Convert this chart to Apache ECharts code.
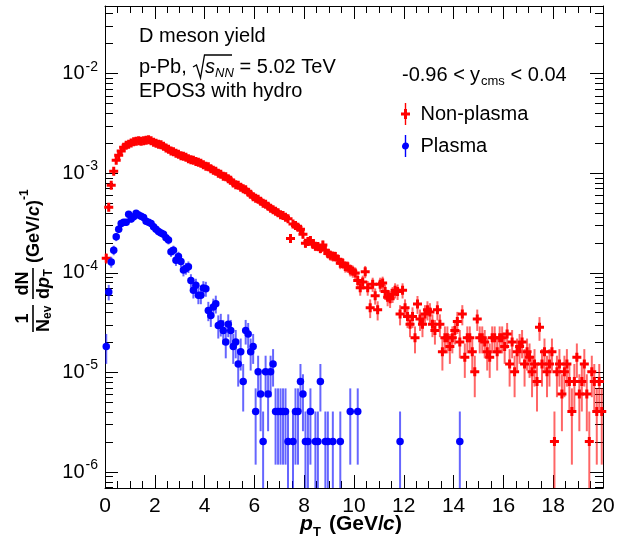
<!DOCTYPE html>
<html>
<head>
<meta charset="utf-8">
<script src="https://cdn.jsdelivr.net/npm/echarts/dist/echarts.min.js"></script>
<style>
  html, body { margin: 0; padding: 0; background: #ffffff; }
  #chart { width: 622px; height: 545px; }
</style>
</head>
<body>
<div id="chart"></div>
<script>
// ---------------- data ----------------
const binWidth = 0.1;          // GeV/c
const firstBinCenter = 0.05;   // GeV/c
const countUnit = 2.03e-6;     // yield carried by one entry (sets Poisson error)

// Non-plasma yield, one value per 0.1 GeV/c bin, 0-20 GeV/c
const nonPlasma = [
  1.40e-4, 4.55e-4, 7.57e-4, 1.05e-3, 1.35e-3, 1.52e-3, 1.67e-3, 1.83e-3, 1.91e-3, 1.96e-3,
  2.02e-3, 2.07e-3, 2.10e-3, 2.12e-3, 2.10e-3, 2.12e-3, 2.15e-3, 2.17e-3, 2.12e-3, 2.05e-3,
  2.00e-3, 1.96e-3, 1.93e-3, 1.87e-3, 1.79e-3, 1.74e-3, 1.67e-3, 1.65e-3, 1.59e-3, 1.55e-3,
  1.50e-3, 1.48e-3, 1.45e-3, 1.40e-3, 1.37e-3, 1.35e-3, 1.31e-3, 1.29e-3, 1.26e-3, 1.22e-3,
  1.175e-3, 1.16e-3, 1.11e-3, 1.07e-3, 1.05e-3, 1.00e-3, 9.77e-4, 9.33e-4, 9.22e-4, 8.81e-4,
  8.51e-4, 7.98e-4, 7.66e-4, 7.57e-4, 7.23e-4, 6.98e-4, 6.82e-4, 6.44e-4, 6.15e-4, 5.80e-4,
  5.61e-4, 5.48e-4, 5.23e-4, 4.99e-4, 4.88e-4, 4.66e-4, 4.45e-4, 4.30e-4, 4.15e-4, 4.01e-4,
  3.83e-4, 3.78e-4, 3.61e-4, 3.49e-4, 2.22e-4, 3.10e-4, 3.00e-4, 2.87e-4, 2.74e-4, 2.44e-4,
  1.98e-4, 2.07e-4, 2.12e-4, 1.94e-4, 1.85e-4, 1.84e-4, 1.76e-4, 1.91e-4, 1.69e-4, 1.57e-4,
  1.50e-4, 1.47e-4, 1.46e-4, 1.37e-4, 1.25e-4, 1.25e-4, 1.16e-4, 1.15e-4, 1.07e-4, 1.04e-4,
  9.95e-5, 8.4e-5, 7.1e-5, 8.1e-5, 1.03e-4, 7.1e-5, 4.47e-5, 7.7e-5, 5.9e-5, 4.26e-5,
  7.7e-5, 7.9e-5, 6.5e-5, 5.7e-5, 5.5e-5, 6.1e-5, 6.7e-5, 6.5e-5, 3.86e-5, 6.7e-5,
  4.47e-5, 3.65e-5, 3.05e-5, 3.65e-5, 2.23e-5, 4.87e-5, 3.45e-5, 3.05e-5, 3.86e-5, 4.26e-5,
  4.06e-5, 3.05e-5, 2.64e-5, 4.26e-5, 3.05e-5, 1.62e-5, 2.23e-5, 2.23e-5, 1.83e-5, 2.23e-5,
  2.64e-5, 3.25e-5, 2.03e-5, 3.86e-5, 1.42e-5, 2.23e-5, 2.23e-5, 1.62e-5, 1.02e-5, 3.45e-5,
  2.23e-5, 2.23e-5, 2.03e-5, 1.62e-5, 1.42e-5, 2.23e-5, 2.23e-5, 1.62e-5, 2.23e-5, 2.23e-5,
  1.83e-5, 2.44e-5, 1.22e-5, 2.03e-5, 1.02e-5, 1.62e-5, 1.83e-5, 2.03e-5, 1.22e-5, 1.62e-5,
  1.42e-5, 1.02e-5, 1.22e-5, 8.12e-6, 2.84e-5, 1.22e-5, 1.62e-5, 1.02e-5, 1.22e-5, 1.62e-5,
  2.03e-6, 1.02e-5, 1.22e-5, 6.09e-6, 1.02e-5, 1.22e-5, 8.12e-6, 4.06e-6, 8.12e-6, 1.42e-5,
  6.09e-6, 8.12e-6, 1.22e-5, 6.09e-6, 2.03e-6, 1.02e-5, 8.12e-6, 4.06e-6, 8.12e-6, 4.06e-6
];

// Plasma yield, one value per 0.1 GeV/c bin (null = empty bin)
const plasma = [
  1.83e-5, 6.44e-5, 1.29e-4, 1.69e-4, 2.30e-4, 2.75e-4, 3.14e-4, 3.22e-4, 3.22e-4, 3.87e-4,
  3.47e-4, 3.67e-4, 3.96e-4, 3.81e-4, 3.70e-4, 3.59e-4, 3.31e-4, 3.22e-4, 3.14e-4, 2.91e-4,
  2.75e-4, 2.60e-4, 2.52e-4, 2.44e-4, 2.26e-4, 2.14e-4, 1.63e-4, 1.69e-4, 1.34e-4, 1.46e-4,
  1.30e-4, 1.07e-4, 1.11e-4, 1.15e-4, 8.4e-5, 6.7e-5, 7.5e-5, 5.95e-5, 5.95e-5, 7.06e-5,
  6.95e-5, 4.20e-5, 3.74e-5, 4.55e-5, 4.91e-5, 2.97e-5, 3.09e-5, 2.64e-5, 2.03e-5, 3.05e-5,
  2.64e-5, 1.83e-5, 2.03e-5, 1.22e-5, 1.62e-5, 8.12e-6, 2.64e-5, 2.44e-5, 1.62e-5, 1.83e-5,
  4.06e-6, 1.02e-5, 6.09e-6, 2.03e-6, 1.02e-5, 6.09e-6, 1.02e-5, 1.22e-5, 4.06e-6, 4.06e-6,
  4.06e-6, 4.06e-6, 4.06e-6, 2.03e-6, null, 2.03e-6, 4.06e-6, 4.06e-6, 8.12e-6, 6.09e-6,
  2.03e-6, 2.03e-6, 4.06e-6, null, 2.03e-6, 2.03e-6, 8.12e-6, null, 2.03e-6, 2.03e-6,
  null, 2.03e-6, null, null, 2.03e-6, null, null, null, 4.06e-6, null,
  null, 4.06e-6, null, null, null, null, null, null, null, null,
  null, null, null, null, null, null, null, null, 2.03e-6, null,
  null, null, null, null, null, null, null, null, null, null,
  null, null, null, null, null, null, null, null, null, null,
  null, null, 2.03e-6
];

// axes
const xMin = 0, xMax = 20, xStep = 2;
const yMin = 6.93e-7, yMax = 4.78e-2;
const yDecades = [1e-6, 1e-5, 1e-4, 1e-3, 1e-2];

// ---------------- helpers ----------------
function binCenter(i) { return Math.round((firstBinCenter + i * binWidth) * 1000) / 1000; }
function points(values) {
  const out = [];
  values.forEach(function (v, i) { if (v !== null) out.push([binCenter(i), v]); });
  return out;
}
function errPoints(values) {
  const out = [];
  values.forEach(function (v, i) { if (v !== null) out.push([binCenter(i), v, Math.sqrt(v * countUnit)]); });
  return out;
}
const yMinor = [];
for (let d = -7; d <= -1; d++) {
  for (let m = 2; m <= 9; m++) {
    const v = m * Math.pow(10, d);
    if (v > yMin && v < yMax) yMinor.push(v);
  }
}
function errRender(color) {
  return function (params, api) {
    const cs = params.coordSys;
    const x = api.value(0), v = api.value(1), e = api.value(2);
    const top = api.coord([x, v + e]);
    const yTop = Math.max(top[1], cs.y);
    let yBot = cs.y + cs.height;
    if (v - e > yMin) yBot = Math.min(api.coord([x, v - e])[1], yBot);
    return { type: 'line', shape: { x1: top[0], y1: yTop, x2: top[0], y2: yBot },
             style: { stroke: color, lineWidth: 2 } };
  };
}

const FONT = 'Liberation Sans, Arial, Helvetica, sans-serif';
const RED = '#ff0000', BLUE = '#0000ff';
const plusPath = 'path://M3,0H6V3H9V6H6V9H3V6H0V3H3Z';
const plusLegend = 'path://M3.8,0H5.2V6H6V9.5H9V12.5H6V16H5.2V22H3.8V16H3V12.5H0V9.5H3V6H3.8Z';
const circleLegend = 'path://M3.3,0H4.7V7.5A3.6,3.6 0 0,1 4.7,14.5V22H3.3V14.5A3.6,3.6 0 0,1 3.3,7.5Z';

function xAxisDef(pos, showLabel) {
  return {
    type: 'value', position: pos, min: xMin, max: xMax, interval: xStep,
    axisLine: { show: true, onZero: false, lineStyle: { color: '#000', width: 1 } },
    axisTick: { show: true, inside: true, length: 13, lineStyle: { color: '#000', width: 1 } },
    minorTick: { show: true, splitNumber: 4, length: 7, lineStyle: { color: '#000', width: 1 } },
    axisLabel: { show: showLabel, color: '#000', fontSize: 21, fontFamily: FONT, margin: 8 },
    splitLine: { show: false }, minorSplitLine: { show: false }
  };
}
function yAxisDef(pos, major, showLine, showLabel) {
  return {
    type: 'log', logBase: 10, position: pos, min: yMin, max: yMax,
    axisLine: { show: showLine, onZero: false, lineStyle: { color: '#000', width: 1 } },
    axisTick: { show: true, inside: true, length: major ? 13 : 8,
                customValues: major ? yDecades : yMinor, lineStyle: { color: '#000', width: 1 } },
    axisLabel: {
      show: showLabel, customValues: yDecades, margin: 7, color: '#000', fontFamily: FONT,
      formatter: function (v) { return '{b|10}{s|' + Math.round(Math.log10(v)) + '}'; },
      rich: {
        b: { fontSize: 20, fontFamily: FONT, color: '#000' },
        s: { fontSize: 14, fontFamily: FONT, color: '#000', padding: [0, 0, 14, 1] }
      }
    },
    splitLine: { show: false }
  };
}
function txt(text, x, y, size, opts) {
  opts = opts || {};
  return {
    type: 'text', x: x, y: y, silent: true,
    style: {
      text: text, fill: '#000',
      font: (opts.style || '') + ' ' + (opts.weight || 'normal') + ' ' + size + 'px ' + FONT,
      textAlign: opts.align || 'left', align: opts.align || 'left',
      textVerticalAlign: 'middle', verticalAlign: 'middle'
    }
  };
}

// ---------------- chart ----------------
const chart = echarts.init(document.getElementById('chart'), null, { renderer: 'canvas' });
const option = {
  animation: false,
  backgroundColor: '#ffffff',
  textStyle: { fontFamily: FONT },
  grid: { left: 105, right: 19, top: 6, bottom: 57, containLabel: false },
  xAxis: [xAxisDef('bottom', true), xAxisDef('top', false)],
  yAxis: [
    yAxisDef('left', true, true, true),
    yAxisDef('left', false, false, false),
    yAxisDef('right', true, true, false),
    yAxisDef('right', false, false, false)
  ],
  legend: {
    left: 396, top: 98, orient: 'vertical', itemWidth: 20, itemHeight: 22, itemGap: 10,
    symbolKeepAspect: true,
    textStyle: { fontSize: 20, color: '#000', fontFamily: FONT },
    data: [
      { name: 'Non-plasma', icon: plusLegend, itemStyle: { color: RED } },
      { name: 'Plasma', icon: circleLegend, itemStyle: { color: BLUE } }
    ]
  },
  series: [
    { type: 'custom', name: 'Non-plasma err', silent: true, z: 2, renderItem: errRender('rgba(255,0,0,0.6)'),
      encode: { x: 0, y: 1 }, data: errPoints(nonPlasma) },
    { type: 'scatter', name: 'Non-plasma', z: 3, symbol: plusPath, symbolSize: 9,
      itemStyle: { color: RED, opacity: 1 }, data: points(nonPlasma) },
    { type: 'custom', name: 'Plasma err', silent: true, z: 4, renderItem: errRender('rgba(0,0,255,0.6)'),
      encode: { x: 0, y: 1 }, data: errPoints(plasma) },
    { type: 'scatter', name: 'Plasma', z: 5, symbol: 'circle', symbolSize: 7.5,
      itemStyle: { color: BLUE, opacity: 1 }, data: points(plasma) }
  ],
  graphic: [
    txt('D meson yield', 139, 36, 20),
    txt('p-Pb, ', 139, 67, 20),
    { type: 'polyline', silent: true, shape: { points: [[193, 67], [196.5, 65], [200.5, 78], [204.5, 55], [232, 55]] },
      style: { stroke: '#000', lineWidth: 1.3, fill: null } },
    txt('s', 205, 67, 20, { style: 'italic' }),
    txt('NN', 215, 73, 13, { style: 'italic' }),
    txt(' = 5.02 TeV', 234, 67, 20),
    txt('EPOS3 with hydro', 139, 91, 20),
    txt('-0.96 < ', 402, 75, 20),
    txt('y', 470, 75, 20),
    txt('cms', 481, 81, 13),
    txt(' < 0.04', 505, 75, 20),
    // x axis title
    txt('p', 300, 524, 21, { style: 'italic', weight: 'bold' }),
    txt('T', 313, 532, 13, { weight: 'bold' }),
    txt('(GeV/', 329, 524, 21, { weight: 'bold' }),
    txt('c', 383, 524, 21, { style: 'italic', weight: 'bold' }),
    txt(')', 395, 524, 21, { weight: 'bold' }),
    // y axis title (rotated)
    {
      type: 'group', x: 33, y: 332, rotation: Math.PI / 2, silent: true,
      children: [
        { type: 'line', shape: { x1: 0, y1: 0, x2: 27, y2: 0 }, style: { stroke: '#000', lineWidth: 1.6 } },
        txt('1', 13.5, -10, 18, { weight: 'bold', align: 'center' }),
        txt('N', 0, 11, 18, { weight: 'bold' }),
        txt('ev', 13, 15, 12, { weight: 'bold' }),
        { type: 'line', shape: { x1: 33, y1: 0, x2: 64, y2: 0 }, style: { stroke: '#000', lineWidth: 1.6 } },
        txt('dN', 48.5, -10, 18, { weight: 'bold', align: 'center' }),
        txt('d', 33, 11, 18, { weight: 'bold' }),
        txt('p', 44, 11, 18, { style: 'italic', weight: 'bold' }),
        txt('T', 55.5, 16, 12, { weight: 'bold' }),
        txt('(GeV/', 69, 1, 18, { weight: 'bold' }),
        txt('c', 116, 1, 18, { style: 'italic', weight: 'bold' }),
        txt(')', 126, 1, 18, { weight: 'bold' }),
        txt('-1', 132, -8, 12, { weight: 'bold' })
      ]
    }
  ]
};
chart.setOption(option);
</script>
</body>
</html>
